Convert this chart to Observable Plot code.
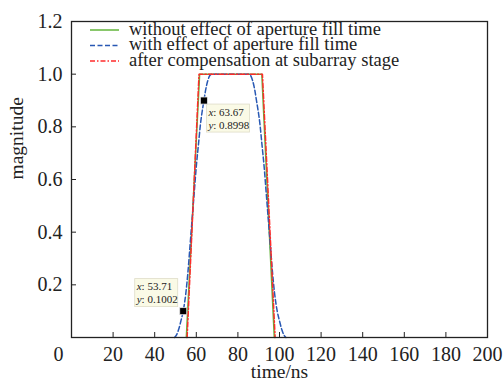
<!DOCTYPE html>
<html>
<head>
<meta charset="utf-8">
<script src="https://cdn.jsdelivr.net/npm/d3@7"></script>
<script src="https://cdn.jsdelivr.net/npm/@observablehq/plot@0.6"></script>
<style>
  html, body { margin: 0; padding: 0; background: #fff; }
  svg { display: block; }
</style>
</head>
<body>
<div id="chart"></div>
<script>
// ---- data ----
const seriesNames = [
  "without effect of aperture fill time",
  "with effect of aperture fill time",
  "after compensation at subarray stage"
];
const greenX = [55.2, 61.6, 91.5, 97.5];
const greenY = [0, 1, 1, 0];
const blueX = [49.5, 50.5, 51.5, 52.5, 53.71, 55, 56, 57, 58, 59, 60, 61, 62, 63.67, 64.5, 65.5, 66.5, 67.5,
               85.1, 86.1, 87.1, 88.1, 88.93, 90.6, 91.6, 92.6, 93.6, 94.6, 95.6, 96.6, 97.6, 98.9, 100.1, 101.1, 102.1, 103.1];
const blueY = [0, 0.01, 0.03, 0.06, 0.1002, 0.17, 0.25, 0.35, 0.45, 0.55, 0.65, 0.73, 0.81, 0.8998, 0.94, 0.975, 0.995, 1,
               1, 0.995, 0.975, 0.94, 0.9, 0.81, 0.73, 0.65, 0.55, 0.45, 0.35, 0.25, 0.17, 0.1, 0.06, 0.03, 0.01, 0];
const redX = [55.6, 61.3, 91.8, 97.9];
const redY = [0, 1, 1, 0];
const tipX = [53.71, 63.67];
const tipY = [0.1002, 0.8998];
const tipXLabels = ["53.71", "63.67"];
const tipYLabels = ["0.1002", "0.8998"];
const xTicks = [20, 40, 60, 80, 100, 120, 140, 160, 180, 200];
const yTicks = [0.2, 0.4, 0.6, 0.8, 1.0, 1.2];

const green = greenX.map((x, i) => ({x, y: greenY[i]}));
const blue = blueX.map((x, i) => ({x, y: blueY[i]}));
const red = redX.map((x, i) => ({x, y: redY[i]}));
const tips = tipX.map((x, i) => ({x, y: tipY[i], xl: tipXLabels[i], yl: tipYLabels[i]}));

const colors = ["#62b43a", "#2858b4", "#ff2b2b"];
const dashes = [null, "5,2.5", "5,2,1.5,2"];
const font = "'Liberation Serif', 'Times New Roman', serif";

const plot = Plot.plot({
  width: 504,
  height: 385,
  marginLeft: 71,
  marginRight: 17,
  marginTop: 21,
  marginBottom: 48,
  x: {domain: [0, 200]},
  y: {domain: [0, 1.2]},
  style: {fontFamily: font, fontSize: "20px", color: "#222", background: "#fff"},
  marks: [
    Plot.line(green, {x: "x", y: "y", stroke: colors[0], strokeWidth: 1.5}),
    Plot.line(blue, {x: "x", y: "y", stroke: colors[1], strokeWidth: 1.5, strokeDasharray: dashes[1], curve: "monotone-x"}),
    Plot.line(red, {x: "x", y: "y", stroke: colors[2], strokeWidth: 1.5, strokeDasharray: dashes[2]}),
    Plot.frame({stroke: "#222", strokeWidth: 1.3}),
    Plot.axisX(xTicks, {tickSize: -5, tickPadding: 14, label: null, stroke: "#222", fontSize: 20}),
    Plot.axisY(yTicks, {tickSize: -5, tickPadding: 14, label: null, stroke: "#222", fontSize: 20, tickFormat: d3.format(".1f")}),
    Plot.text([0], {x: d => d, frameAnchor: "bottom", dx: -13, dy: 9, lineAnchor: "top", text: d => String(d), fontSize: 20, fill: "#222"}),
    Plot.text(["magnitude"], {frameAnchor: "left", dx: -55, rotate: -90, fontSize: 19.5, fill: "#222"}),
    Plot.text(["time/ns"], {frameAnchor: "bottom", dy: 40, fontSize: 19.5, fill: "#222"}),
    Plot.dot(tips, {x: "x", y: "y", symbol: "square", r: 4, fill: "#000", stroke: "#eee", strokeWidth: 0.8})
  ]
});

document.getElementById("chart").appendChild(plot);

// ---- datatips and legend, positioned through Plot's scales ----
const sx = plot.scale("x"), sy = plot.scale("y");
const svg = d3.select(plot);
const tipLayer = svg.append("g").attr("font-family", font).attr("font-size", 11)
  .attr("fill", "#222").attr("text-anchor", "start");
const tipW = 43, tipH = 28;
const placement = [{dx: -5 - tipW, dy: -4 - tipH}, {dx: 3, dy: 4}];
tips.forEach((t, i) => {
  const px = sx.apply(t.x), py = sy.apply(t.y);
  const bx = px + placement[i].dx, by = py + placement[i].dy;
  tipLayer.append("rect").attr("x", bx).attr("y", by).attr("width", tipW).attr("height", tipH)
    .attr("fill", "#fafae6").attr("stroke", "#dedcc8").attr("stroke-width", 0.8);
  const t1 = tipLayer.append("text").attr("x", bx + 2).attr("y", by + 8).attr("dy", "0.35em");
  t1.append("tspan").attr("font-style", "italic").text("x");
  t1.append("tspan").text(": " + t.xl);
  const t2 = tipLayer.append("text").attr("x", bx + 2).attr("y", by + 21).attr("dy", "0.35em");
  t2.append("tspan").attr("font-style", "italic").text("y");
  t2.append("tspan").text(": " + t.yl);
});
// bring markers on top
svg.selectAll("g[aria-label='dot']").raise();

const leg = svg.append("g").attr("font-family", font).attr("font-size", 18.5)
  .attr("fill", "#222").attr("text-anchor", "start");
const legRows = [30, 45.5, 61];
seriesNames.forEach((name, i) => {
  leg.append("line").attr("x1", 90).attr("x2", 119).attr("y1", legRows[i]).attr("y2", legRows[i])
    .attr("stroke", colors[i]).attr("stroke-width", 1.5).attr("stroke-dasharray", dashes[i]);
  leg.append("text").attr("x", 129).attr("y", legRows[i] - 1).attr("dy", "0.32em").text(name);
});
</script>
</body>
</html>
